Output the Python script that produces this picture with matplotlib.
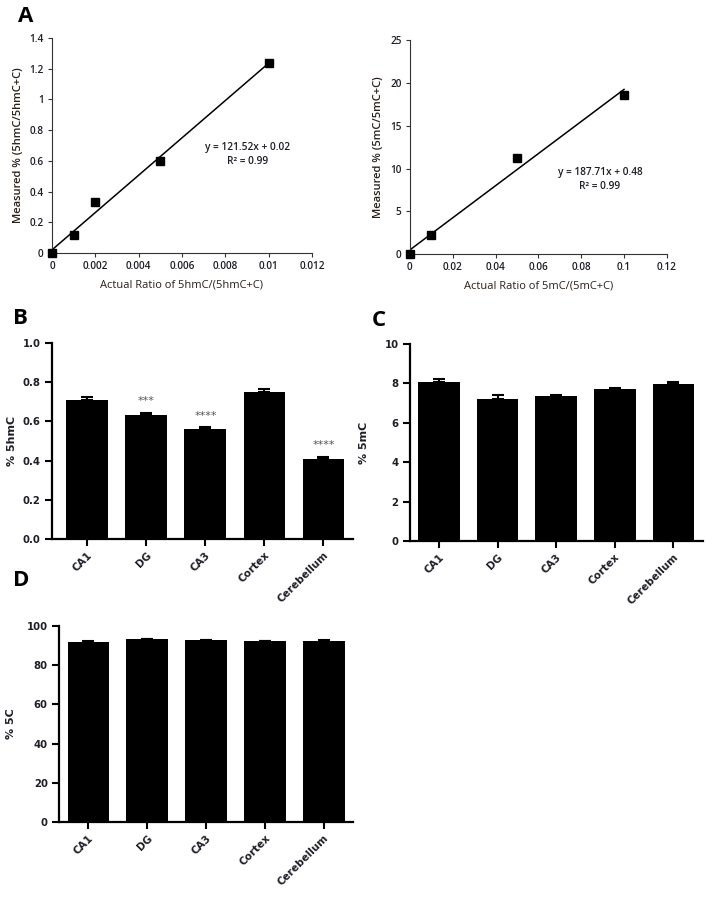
import matplotlib
matplotlib.use("Agg")
import matplotlib.pyplot as plt
import numpy as np

# ---- data ----
# panel A, standard curves
hmc_actual = [0, 0.001, 0.002, 0.005, 0.01]
hmc_measured = [0.0, 0.12, 0.33, 0.60, 1.24]
hmc_slope, hmc_icpt = 121.52, 0.02

mc_actual = [0, 0.01, 0.05, 0.1]
mc_measured = [0.0, 2.2, 11.2, 18.6]
mc_slope, mc_icpt = 187.71, 0.48

# panels B-D, brain regions
regions = ["CA1", "DG", "CA3", "Cortex", "Cerebellum"]
hmc_mean = [0.708, 0.635, 0.559, 0.750, 0.406]
hmc_err = [0.015, 0.008, 0.011, 0.017, 0.013]
hmc_stars = ["", "***", "****", "", "****"]

mc_mean = [8.08, 7.20, 7.37, 7.72, 7.98]
mc_err = [0.14, 0.22, 0.05, 0.06, 0.10]

c_mean = [92.0, 93.2, 92.8, 92.4, 92.6]
c_err = [0.2, 0.3, 0.2, 0.2, 0.2]

TXT = '#1e1e28'
CAL = ['Open Sans', 'DejaVu Sans']

fig = plt.figure(figsize=(7.14, 9.06), dpi=100)


def scatter_panel(rect, xs, ys, slope, icpt, xmax, ymax, xticks, yticks,
                  xlab, ylab, eq_xy):
    ax = fig.add_axes(rect)
    xfit = np.array([0, max(xs)])
    ax.plot(xfit, slope * xfit + icpt, color='black', lw=1.1)
    ax.plot(xs, ys, 's', color='black', ms=5.5, clip_on=False, zorder=3)
    ax.set_xlim(0, xmax)
    ax.set_ylim(0, ymax)
    ax.set_xticks(xticks)
    ax.set_yticks(yticks)
    ax.set_xticklabels([f'{t:g}' for t in xticks], family=CAL, fontsize=7.2,
                       fontweight='semibold', color=TXT)
    ax.set_yticklabels([f'{t:g}' for t in yticks], family=CAL, fontsize=7.2,
                       fontweight='semibold', color=TXT)
    ax.set_xlabel(xlab, family=CAL, fontsize=8, color='#2a2018', labelpad=5)
    ax.set_ylabel(ylab, family=CAL, fontsize=8, color='#2a2018',
                  fontweight='semibold', labelpad=4)
    for s in ['top', 'right']:
        ax.spines[s].set_visible(False)
    for s in ['left', 'bottom']:
        ax.spines[s].set_linewidth(0.8)
        ax.spines[s].set_color('#333333')
    ax.tick_params(direction='out', length=3, width=0.8, color='#333333', pad=3)
    ax.text(eq_xy[0], eq_xy[1], f'y = {slope:.2f}x + {icpt:.2f}\nR² = 0.99',
            ha='center', va='center', family=CAL, fontsize=7.3,
            fontweight='semibold', color=TXT, linespacing=1.3)
    return ax


scatter_panel([0.0728, 0.7208, 0.364, 0.2373], hmc_actual, hmc_measured,
              hmc_slope, hmc_icpt, 0.012, 1.4,
              [0, 0.002, 0.004, 0.006, 0.008, 0.01, 0.012],
              [0, 0.2, 0.4, 0.6, 0.8, 1, 1.2, 1.4],
              'Actual Ratio of 5hmC/(5hmC+C)', 'Measured % (5hmC/5hmC+C)',
              (0.00905, 0.64))

scatter_panel([0.574, 0.7196, 0.360, 0.236], mc_actual, mc_measured,
              mc_slope, mc_icpt, 0.12, 25,
              [0, 0.02, 0.04, 0.06, 0.08, 0.1, 0.12],
              [0, 5, 10, 15, 20, 25],
              'Actual Ratio of 5mC/(5mC+C)', 'Measured % (5mC/5mC+C)',
              (0.0887, 8.7))


def bar_panel(rect, means, errs, ymax, ystep, ylab, xlim, yfmt, lab_x,
              stars=None):
    ax = fig.add_axes(rect)
    x = np.arange(len(regions))
    ax.bar(x, means, width=0.71, color='black', zorder=2)
    ax.errorbar(x, means, yerr=[np.zeros(len(errs)), errs], fmt='none',
                ecolor='black', elinewidth=1.5, capsize=4.5, capthick=1.5,
                zorder=3)
    ax.set_xlim(*xlim)
    ax.set_ylim(0, ymax)
    yt = np.arange(0, ymax + ystep / 2, ystep)
    ax.set_yticks(yt)
    ax.set_yticklabels([yfmt.format(v) for v in yt], fontsize=7.3,
                       fontweight='bold', color=TXT)
    ax.set_xticks(x)
    ax.set_xticklabels(regions, rotation=45, ha='right', va='top',
                       rotation_mode='anchor', fontsize=7.5,
                       fontweight='bold', color=TXT)
    ax.set_ylabel(ylab, fontsize=8, fontweight='bold', color=TXT)
    ax.yaxis.set_label_coords(lab_x, 0.5)
    for s in ['top', 'right']:
        ax.spines[s].set_visible(False)
    for s in ['left', 'bottom']:
        ax.spines[s].set_linewidth(1.6)
    ax.tick_params(direction='out', length=5, width=1.5, pad=3)
    if stars:
        for xi, m, e, st in zip(x, means, errs, stars):
            if st:
                ax.text(xi, m + e + ymax * 0.06, st, ha='center', va='center',
                        fontsize=8, color='#555555')
    return ax


bar_panel([0.0728, 0.4051, 0.4216, 0.2163], hmc_mean, hmc_err, 1.0, 0.2,
          '% 5hmC', (-0.6, 4.5), '{:.1f}', -0.115, hmc_stars)
bar_panel([0.574, 0.4029, 0.410, 0.2174], mc_mean, mc_err, 10, 2,
          '% 5mC', (-0.5, 4.5), '{:.0f}', -0.14)
bar_panel([0.0826, 0.0927, 0.412, 0.2163], c_mean, c_err, 100, 20,
          '% 5C', (-0.5, 4.5), '{:.0f}', -0.145)

# panel letters
for lab, px, py in [('A', 18, 17), ('B', 13, 319), ('C', 372, 321), ('D', 13, 580)]:
    fig.text(px / 714, 1 - py / 906, lab, family=CAL, fontsize=16,
             fontweight='bold', ha='left', va='center', color='black')

fig.savefig('out.png', dpi=100)
